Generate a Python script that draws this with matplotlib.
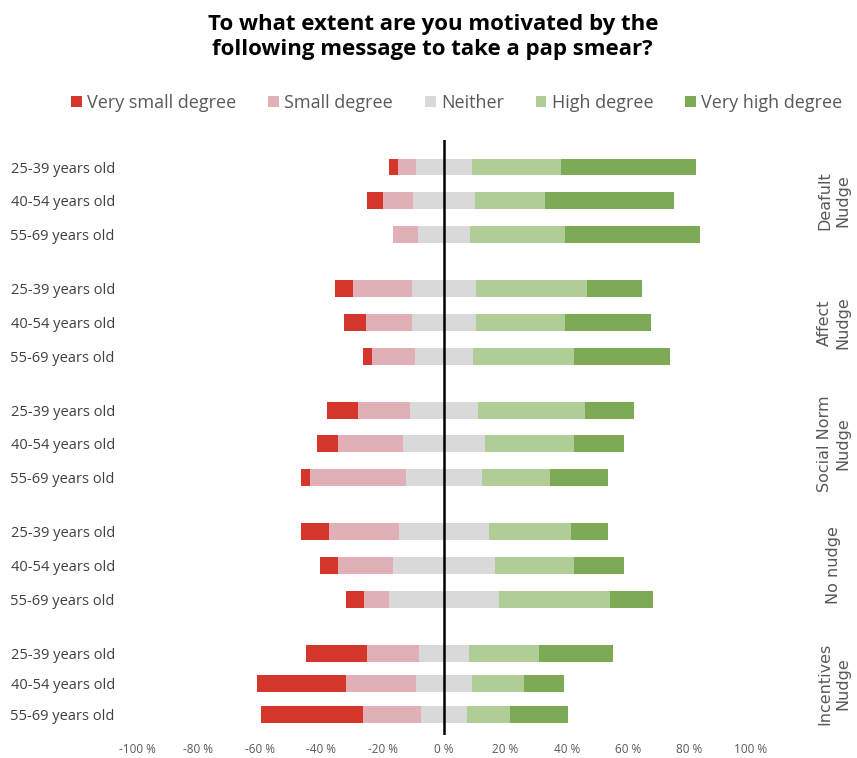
import numpy as np
import matplotlib as mp
import matplotlib.pyplot as plot
from matplotlib.patches import Patch

# categories
groups = ["Deafult\nNudge", "Affect\nNudge", "Social Norm\nNudge", "No nudge", "Incentives\nNudge"]
ages = ["25-39 years old", "40-54 years old", "55-69 years old"]
answers = ["Very small degree", "Small degree", "Neither", "High degree", "Very high degree"]

# shares (%) per row, top to bottom
very_small = [3, 5, 0,   6, 7, 3,   10, 7, 3,   9, 6, 6,   20, 29, 33]
small      = [6, 10, 8,  19, 15, 14, 17, 21, 31, 23, 18, 8,  17, 23, 19]
neither    = [18, 20, 17, 21, 21, 19, 22, 27, 25, 29, 33, 36, 16, 18, 15]
high       = [29, 23, 31, 36, 29, 33, 35, 29, 22, 27, 26, 36, 23, 17, 14]
very_high  = [44, 42, 44, 18, 28, 31, 16, 16, 19, 12, 16, 14, 24, 13, 19]

xticks = [-100, -80, -60, -40, -20, 0, 20, 40, 60, 80, 100]

colors = ["#D4362B", "#E1B0B6", "#D9D9D9", "#B1CD97", "#7DAB55"]
text_color = "#595959"

# layout
row_step = 1.0
group_step = 3 * row_step + 0.6
bar_h = 0.5

mp.rcParams["font.family"] = ["Open Sans", "DejaVu Sans"]

fig = plot.figure(figsize=(8.57, 7.58), dpi=100)
ax = fig.add_axes([137/857, 1-735/758, 614/857, 595/758])

ypos = []
for g in range(len(groups)):
    step = row_step if g < len(groups) - 1 else 0.9 * row_step
    for i in range(len(ages)):
        ypos.append(g * group_step + i * step)
ypos = np.array(ypos)

vs = np.array(very_small, float)
sm = np.array(small, float)
ne = np.array(neither, float)
hi = np.array(high, float)
vh = np.array(very_high, float)

left_ne = -ne / 2
ax.barh(ypos, ne, left=left_ne, height=bar_h, color=colors[2])
ax.barh(ypos, sm, left=left_ne - sm, height=bar_h, color=colors[1])
ax.barh(ypos, vs, left=left_ne - sm - vs, height=bar_h, color=colors[0])
ax.barh(ypos, hi, left=ne / 2, height=bar_h, color=colors[3])
ax.barh(ypos, vh, left=ne / 2 + hi, height=bar_h, color=colors[4])

ax.axvline(0, color="black", lw=1.8)

ax.set_xlim(-100, 100)
ax.set_ylim(ypos[-1] + 0.62, ypos[0] - 0.80)
for s in ax.spines.values():
    s.set_visible(False)

ax.set_xticks(xticks)
ax.set_xticklabels(["%d %%" % t for t in xticks])
ax.set_yticks(ypos)
ax.set_yticklabels(ages * len(groups))
ax.tick_params(axis="x", length=0, pad=6, labelsize=8.5, labelcolor=text_color)
ax.tick_params(axis="y", length=0, pad=16, labelsize=10.5, labelcolor="#404040")

# group labels on the right
for g, name in enumerate(groups):
    yc = ypos[g * 3 + 1]
    ax.text(1.135, yc, name, transform=ax.get_yaxis_transform(),
            rotation=90, ha="center", va="center", fontsize=11.5,
            family="DejaVu Sans", color=text_color, linespacing=1.3,
            multialignment="center")

fig.text(0.505, 1-37/758, "To what extent are you motivated by the\nfollowing message to take a pap smear?",
         ha="center", va="center", fontsize=16, fontweight="bold", linespacing=1.2)

handles = [Patch(facecolor=c, edgecolor="none") for c in colors]
fig.legend(handles, answers, loc="center", bbox_to_anchor=(0.533, 1-103/758), ncol=5,
           frameon=False, fontsize=13, handlelength=0.6, handleheight=0.6,
           handletextpad=0.3, columnspacing=1.75, labelcolor=text_color)

plot.savefig("out.png", dpi=100)
